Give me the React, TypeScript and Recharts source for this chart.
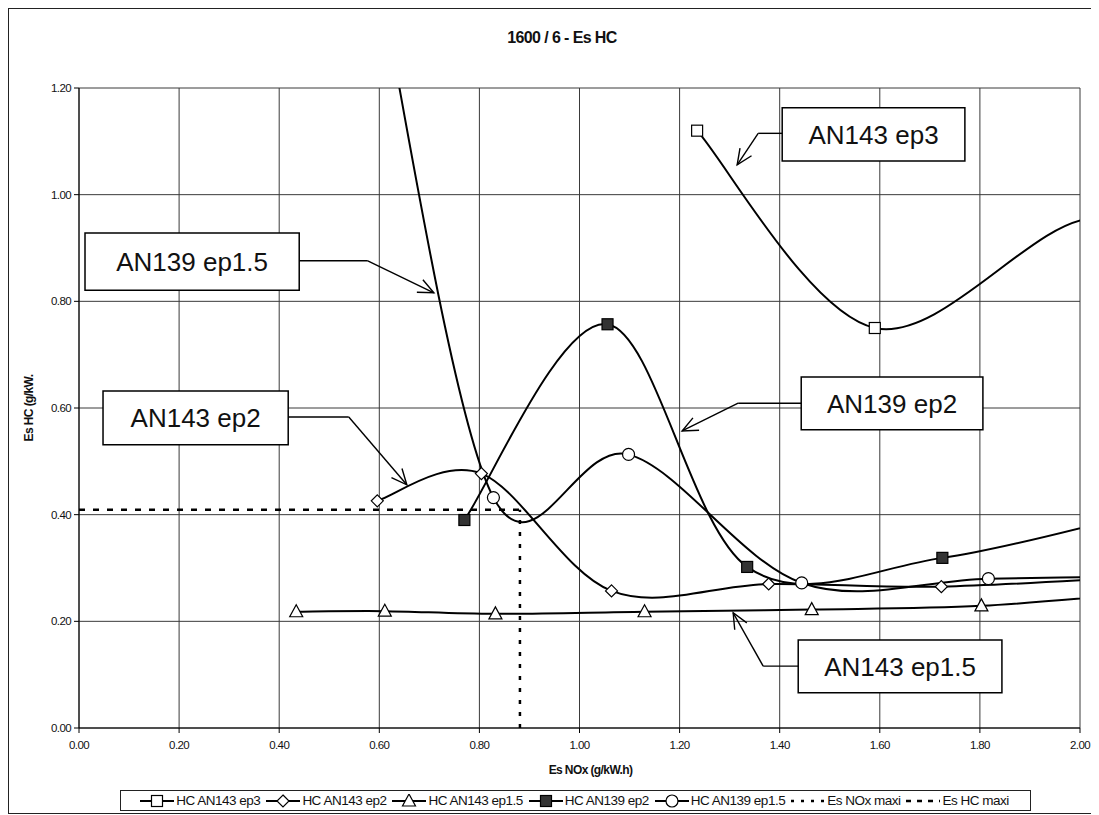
import React from "react";
import {
  CartesianGrid,
  Legend,
  Line,
  LineChart,
  ReferenceArea,
  ReferenceLine,
  XAxis,
  YAxis,
} from "recharts";

// axis ticks
const xTicks = [0, 0.2, 0.4, 0.6, 0.8, 1.0, 1.2, 1.4, 1.6, 1.8, 2.0];
const yTicks = [0, 0.2, 0.4, 0.6, 0.8, 1.0, 1.2];

// series (points outside the frame are estimates of where the curves continue)
const hcAn143Ep3 = [
  { x: 1.235, y: 1.12 },
  { x: 1.59, y: 0.75 },
  { x: 2.02, y: 0.955 },
  { x: 2.3, y: 0.8 },
];
const hcAn143Ep2 = [
  { x: 0.596, y: 0.426 },
  { x: 0.804, y: 0.477 },
  { x: 1.064, y: 0.257 },
  { x: 1.378, y: 0.27 },
  { x: 1.723, y: 0.265 },
  { x: 2.15, y: 0.285 },
];
const hcAn143Ep15 = [
  { x: 0.434, y: 0.218 },
  { x: 0.611, y: 0.219 },
  { x: 0.832, y: 0.214 },
  { x: 1.13, y: 0.218 },
  { x: 1.464, y: 0.222 },
  { x: 1.803, y: 0.229 },
  { x: 2.15, y: 0.255 },
];
const hcAn139Ep2 = [
  { x: 0.77, y: 0.39 },
  { x: 1.056, y: 0.757 },
  { x: 1.335, y: 0.302 },
  { x: 1.725, y: 0.319 },
  { x: 2.15, y: 0.41 },
];
const hcAn139Ep15 = [
  { x: 0.6, y: 1.4 },
  { x: 0.828, y: 0.432 },
  { x: 1.098, y: 0.513 },
  { x: 1.444, y: 0.272 },
  { x: 1.817, y: 0.28 },
  { x: 2.2, y: 0.285 },
];
const esNoxMaxi = [
  { x: 0.881, y: 0 },
  { x: 0.881, y: 0.409 },
];
const esHcMaxi = [
  { x: 0, y: 0.409 },
  { x: 0.881, y: 0.409 },
];

// text callouts: box [x1, x2, y1, y2] and leader path, in data units
const callouts = [
  { text: "AN143 ep3", box: [1.405, 1.77, 1.063, 1.163], path: [[1.405, 1.115], [1.357, 1.115], [1.315, 1.056]] },
  { text: "AN139 ep1.5", box: [0.012, 0.44, 0.821, 0.928], path: [[0.44, 0.876], [0.577, 0.876], [0.709, 0.816]] },
  { text: "AN139 ep2", box: [1.443, 1.806, 0.559, 0.658], path: [[1.443, 0.609], [1.317, 0.609], [1.205, 0.557]] },
  { text: "AN143 ep2", box: [0.048, 0.418, 0.531, 0.632], path: [[0.418, 0.583], [0.539, 0.583], [0.655, 0.456]] },
  { text: "AN143 ep1.5", box: [1.437, 1.844, 0.066, 0.165], path: [[1.437, 0.116], [1.367, 0.116], [1.307, 0.216]] },
];

const FONT = '"Liberation Sans", Arial, sans-serif';

// Excel-like smoothing (Catmull-Rom through the points)
function excelSmooth(context: any) {
  let pts: number[][] = [];
  return {
    areaStart() {},
    areaEnd() {},
    lineStart() {
      pts = [];
    },
    lineEnd() {
      if (!pts.length) return;
      context.moveTo(pts[0][0], pts[0][1]);
      for (let i = 0; i < pts.length - 1; i++) {
        const p0 = pts[i - 1] || pts[i];
        const p1 = pts[i];
        const p2 = pts[i + 1];
        const p3 = pts[i + 2] || p2;
        context.bezierCurveTo(
          p1[0] + (p2[0] - p0[0]) / 6,
          p1[1] + (p2[1] - p0[1]) / 6,
          p2[0] - (p3[0] - p1[0]) / 6,
          p2[1] - (p3[1] - p1[1]) / 6,
          p2[0],
          p2[1]
        );
      }
    },
    point(x: number, y: number) {
      pts.push([+x, +y]);
    },
  };
}

type Marker = "square" | "diamond" | "triangle" | "filled" | "circle" | "none";

function markerShape(kind: Marker, cx: number, cy: number, key?: string) {
  const st = { fill: "#fff", stroke: "#000", strokeWidth: 1.2 };
  switch (kind) {
    case "square":
      return <rect key={key} x={cx - 5.5} y={cy - 5.5} width={11} height={11} {...st} />;
    case "filled":
      return <rect key={key} x={cx - 5.5} y={cy - 5.5} width={11} height={11} {...st} fill="#333" />;
    case "diamond":
      return <polygon key={key} points={`${cx},${cy - 6} ${cx + 6},${cy} ${cx},${cy + 6} ${cx - 6},${cy}`} {...st} />;
    case "triangle":
      return <polygon key={key} points={`${cx},${cy - 7} ${cx + 6.5},${cy + 5} ${cx - 6.5},${cy + 5}`} {...st} />;
    case "circle":
      return <circle key={key} cx={cx} cy={cy} r={6} {...st} />;
    default:
      return <g key={key} />;
  }
}

const makeDot = (kind: Marker) => (props: any) => {
  const { cx, cy, index, payload } = props;
  const key = `${kind}-${index}`;
  if (cx == null || cy == null || !payload) return <g key={key} />;
  if (payload.x < 0 || payload.x > 2 || payload.y < 0 || payload.y > 1.2) return <g key={key} />;
  return markerShape(kind, cx, cy, key);
};

const legendItems: { label: string; marker: Marker; dash?: string }[] = [
  { label: "HC AN143 ep3", marker: "square" },
  { label: "HC AN143 ep2", marker: "diamond" },
  { label: "HC AN143 ep1.5", marker: "triangle" },
  { label: "HC AN139 ep2", marker: "filled" },
  { label: "HC AN139 ep1.5", marker: "circle" },
  { label: "Es NOx maxi", marker: "none", dash: "3 7" },
  { label: "Es HC maxi", marker: "none", dash: "5 6" },
];

function LegendBox() {
  return (
    <div
      style={{
        border: "1px solid #222",
        height: 19,
        display: "flex",
        alignItems: "center",
        justifyContent: "center",
        background: "#fff",
        fontFamily: FONT,
        fontSize: 13.5,
        letterSpacing: -0.5,
        color: "#111",
        whiteSpace: "nowrap",
      }}
    >
      {legendItems.map((it) => (
        <span key={it.label} style={{ display: "flex", alignItems: "center", marginRight: 4 }}>
          <svg width={38} height={14}>
            <line
              x1={2}
              y1={7}
              x2={36}
              y2={7}
              stroke="#000"
              strokeWidth={it.dash ? 2.5 : 2}
              strokeDasharray={it.dash}
            />
            {it.marker !== "none" && markerShape(it.marker, 19, 7)}
          </svg>
          <span>{it.label}</span>
        </span>
      ))}
    </div>
  );
}

const arrowShape = (props: any) => {
  const { x1, y1, x2, y2 } = props;
  const a = Math.atan2(y2 - y1, x2 - x1);
  const len = 17;
  const s = 0.42;
  const pt = (d: number) => `${x2 - len * Math.cos(a + d)},${y2 - len * Math.sin(a + d)}`;
  return (
    <g>
      <line x1={x1} y1={y1} x2={x2} y2={y2} stroke="#000" strokeWidth={1.4} />
      <polyline points={`${pt(s)} ${x2},${y2} ${pt(-s)}`} fill="none" stroke="#000" strokeWidth={1.4} />
    </g>
  );
};

const plainLeg = (props: any) => {
  const { x1, y1, x2, y2 } = props;
  return <line x1={x1} y1={y1} x2={x2} y2={y2} stroke="#000" strokeWidth={1.4} />;
};

const tickStyle = { fontFamily: FONT, fontSize: 11.5, fill: "#111", letterSpacing: -0.6 };

export default function App() {
  return (
    <div
      style={{
        position: "relative",
        width: 1088,
        height: 806,
        border: "1px solid #222",
        boxSizing: "border-box",
        background: "#fff",
      }}
    >
      <div
        style={{
          position: "absolute",
          left: 553,
          top: 20,
          transform: "translateX(-50%)",
          fontFamily: FONT,
          fontWeight: "bold",
          fontSize: 16,
          letterSpacing: -0.6,
          color: "#111",
          whiteSpace: "nowrap",
        }}
      >
        1600 / 6 - Es HC
      </div>
      <LineChart width={1086} height={804} margin={{ top: 79, right: 15, left: 25, bottom: 55 }}>
        <CartesianGrid stroke="#3a3a3a" strokeWidth={1} />
        <XAxis
          type="number"
          dataKey="x"
          domain={[0, 2]}
          ticks={xTicks}
          allowDataOverflow
          height={30}
          tickSize={5}
          tickMargin={8}
          stroke="#000"
          tick={tickStyle}
          tickFormatter={(v: number) => v.toFixed(2)}
          label={(p: any) => {
            const vb = p.viewBox || {};
            return (
              <text
                x={vb.x + vb.width / 2 + 11}
                y={vb.y + 46}
                textAnchor="middle"
                fontFamily={FONT}
                fontWeight="bold"
                fontSize={12}
                letterSpacing={-0.6}
                fill="#111"
              >
                Es NOx (g/kW.h)
              </text>
            );
          }}
        />
        <YAxis
          type="number"
          dataKey="y"
          domain={[0, 1.2]}
          ticks={yTicks}
          allowDataOverflow
          width={45}
          tickSize={5}
          tickMargin={3}
          stroke="#000"
          tick={tickStyle}
          tickFormatter={(v: number) => v.toFixed(2)}
          label={(p: any) => {
            const vb = p.viewBox || {};
            const cx = 20;
            const cy = vb.y + vb.height / 2;
            return (
              <text
                x={cx}
                y={cy}
                transform={`rotate(-90 ${cx} ${cy})`}
                textAnchor="middle"
                dominantBaseline="central"
                fontFamily={FONT}
                fontWeight="bold"
                fontSize={12}
                letterSpacing={-0.6}
                fill="#111"
              >
                Es HC (g/kW.
              </text>
            );
          }}
        />
        <Legend
          layout="horizontal"
          verticalAlign="middle"
          align="center"
          wrapperStyle={{ top: 781, left: 111, width: 911, height: 21 }}
          content={() => <LegendBox />}
        />

        {callouts.map((c) => (
          <ReferenceArea
            key={`box-${c.text}`}
            x1={c.box[0]}
            x2={c.box[1]}
            y1={c.box[2]}
            y2={c.box[3]}
            fill="#fff"
            fillOpacity={1}
            stroke="#000"
            strokeWidth={1.5}
            label={{ value: c.text, position: "center", fontSize: 26, fill: "#111", fontFamily: FONT }}
          />
        ))}
        {callouts.map((c) =>
          c.path.slice(0, -1).map((p, i) => (
            <ReferenceLine
              key={`leg-${c.text}-${i}`}
              segment={[
                { x: p[0], y: p[1] },
                { x: c.path[i + 1][0], y: c.path[i + 1][1] },
              ]}
              shape={i === c.path.length - 2 ? arrowShape : plainLeg}
            />
          ))
        )}

        <Line
          data={esNoxMaxi}
          dataKey="y"
          name="Es NOx maxi"
          type="linear"
          stroke="#000"
          strokeWidth={2.5}
          strokeDasharray="4 8"
          dot={false}
          activeDot={false}
          isAnimationActive={false}
        />
        <Line
          data={esHcMaxi}
          dataKey="y"
          name="Es HC maxi"
          type="linear"
          stroke="#000"
          strokeWidth={2.5}
          strokeDasharray="6 8"
          dot={false}
          activeDot={false}
          isAnimationActive={false}
        />
        <Line
          data={hcAn143Ep3}
          dataKey="y"
          name="HC AN143 ep3"
          type={excelSmooth as any}
          stroke="#000"
          strokeWidth={2}
          dot={makeDot("square")}
          activeDot={false}
          isAnimationActive={false}
        />
        <Line
          data={hcAn143Ep2}
          dataKey="y"
          name="HC AN143 ep2"
          type={excelSmooth as any}
          stroke="#000"
          strokeWidth={2}
          dot={makeDot("diamond")}
          activeDot={false}
          isAnimationActive={false}
        />
        <Line
          data={hcAn143Ep15}
          dataKey="y"
          name="HC AN143 ep1.5"
          type={excelSmooth as any}
          stroke="#000"
          strokeWidth={2}
          dot={makeDot("triangle")}
          activeDot={false}
          isAnimationActive={false}
        />
        <Line
          data={hcAn139Ep2}
          dataKey="y"
          name="HC AN139 ep2"
          type={excelSmooth as any}
          stroke="#000"
          strokeWidth={2}
          dot={makeDot("filled")}
          activeDot={false}
          isAnimationActive={false}
        />
        <Line
          data={hcAn139Ep15}
          dataKey="y"
          name="HC AN139 ep1.5"
          type={excelSmooth as any}
          stroke="#000"
          strokeWidth={2}
          dot={makeDot("circle")}
          activeDot={false}
          isAnimationActive={false}
        />
      </LineChart>
    </div>
  );
}
